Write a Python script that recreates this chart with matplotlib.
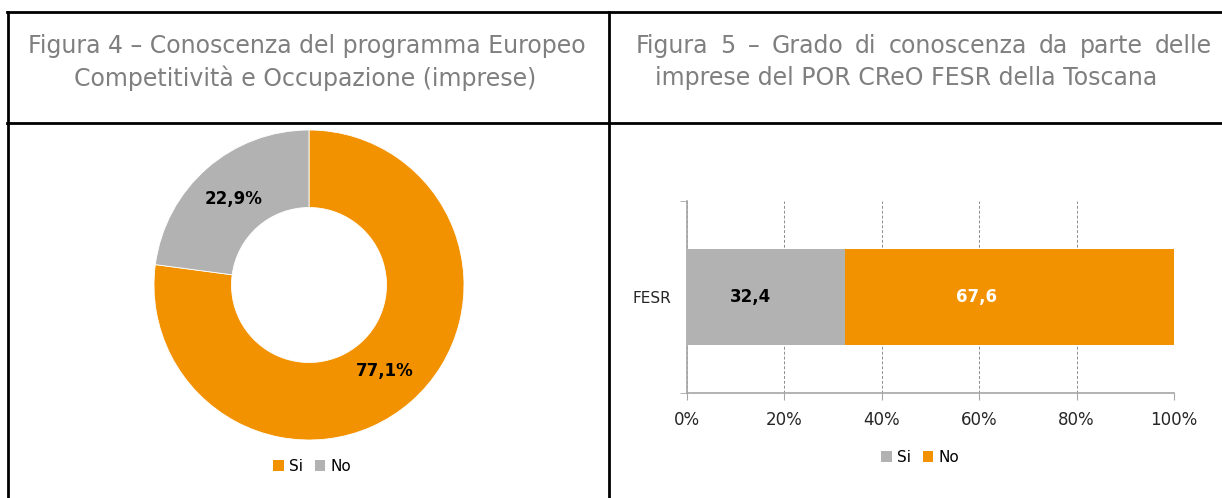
import matplotlib
matplotlib.use("Agg")
import matplotlib.pyplot as plt
from matplotlib.lines import Line2D
from matplotlib.patches import Patch

# ---- data ----
pie_labels = ["Si", "No"]
pie_values = [77.1, 22.9]
bar_category = ["FESR"]
bar_series = ["Si", "No"]
bar_values = [32.4, 67.6]
x_ticks = [0, 20, 40, 60, 80, 100]
x_ticklabels = ["0%", "20%", "40%", "60%", "80%", "100%"]
title_left = ["Figura 4 – Conoscenza del programma Europeo",
              "Competitività e Occupazione (imprese)"]
title_right = ["Figura 5 – Grado di conoscenza da parte delle",
               "imprese del POR CReO FESR della Toscana"]

ORANGE = "#F39200"
GREY = "#B2B2B2"
TITLE_C = "#7F7F7F"
TEXT_C = "#262626"
FONT = "DejaVu Sans"
plt.rcParams["font.family"] = [FONT]

W, H = 1222, 498
fig = plt.figure(figsize=(W / 100, H / 100), dpi=100)

def fx(px):
    return px / W

def fy(py):
    return 1 - py / H

# table lines
lw = 2
for (x0, y0, x1, y1) in [(7, 12, 1222, 12), (7, 123, 1222, 123),
                         (8, 12, 8, 498), (609, 12, 609, 498)]:
    fig.add_artist(Line2D([fx(x0), fx(x1)], [fy(y0), fy(y1)], color="black", lw=lw))

TS = 17
# titles
fig.text(fx(307), fy(46), title_left[0], ha="center", va="center", fontsize=TS, color=TITLE_C)
fig.text(fx(305), fy(78), title_left[1], ha="center", va="center", fontsize=TS, color=TITLE_C)

# justified first line of right title
renderer = fig.canvas.get_renderer()
words = title_right[0].split(" ")
wtexts = [fig.text(0, fy(46), w, ha="left", va="center", fontsize=TS, color=TITLE_C) for w in words]
widths = [t.get_window_extent(renderer).width for t in wtexts]
x_start, x_end = 636, 1212
gap = (x_end - x_start - sum(widths)) / (len(words) - 1)
xpos = x_start
for t, wdt in zip(wtexts, widths):
    t.set_x(fx(xpos))
    xpos += wdt + gap
fig.text(fx(655), fy(78), title_right[1], ha="left", va="center", fontsize=TS, color=TITLE_C)

# ---- donut ----
cx, cy, r = 309, 285, 155
axp = fig.add_axes([fx(cx - r), fy(cy + r), (2 * r) / W, (2 * r) / H])
wedges, texts, autotexts = axp.pie(
    pie_values, colors=[ORANGE, GREY], startangle=90, counterclock=False,
    radius=1, wedgeprops=dict(width=0.5, edgecolor="white", linewidth=0.6),
    autopct=lambda p: f"{p:.1f}%".replace(".", ","), pctdistance=0.74,
    textprops=dict(fontsize=12, fontweight="bold", color="black"))
axp.set_xlim(-1, 1)
axp.set_ylim(-1, 1)
axp.set_aspect("auto")
axp.axis("off")

handles_p = [Patch(facecolor=ORANGE, label=pie_labels[0]),
             Patch(facecolor=GREY, label=pie_labels[1])]
fig.legend(handles=handles_p, loc="center", bbox_to_anchor=(fx(312), fy(466)),
           ncol=2, frameon=False, fontsize=11, handlelength=0.7, handleheight=0.7,
           handletextpad=0.3, columnspacing=0.8)

# ---- stacked bar ----
axb = fig.add_axes([fx(687), fy(393), (1174 - 687) / W, (393 - 201) / H])
left = 0
colors_b = [GREY, ORANGE]
txt_colors = ["black", "white"]
for name, val, col, tc in zip(bar_series, bar_values, colors_b, txt_colors):
    axb.barh([0], [val], left=[left], height=1, color=col, label=name, zorder=3)
    axb.text(left + val * 0.4, 0, f"{val:.1f}".replace(".", ","), ha="center", va="center",
             fontsize=12, fontweight="bold", color=tc, zorder=4)
    left += val
axb.set_xlim(0, 100)
axb.set_ylim(-1, 1)
axb.set_xticks(x_ticks)
axb.set_xticklabels(x_ticklabels, fontsize=12, color=TEXT_C)
axb.set_yticks([0])
axb.set_yticklabels(bar_category, fontsize=11, color=TEXT_C)
axb.set_yticks([-1, 1], minor=True)
axb.tick_params(axis="y", which="major", length=0, pad=11)
axb.tick_params(axis="y", which="minor", length=5, color="#A6A6A6", direction="out")
axb.tick_params(axis="x", length=5, color="#A6A6A6", direction="out", pad=8)
axb.grid(axis="x", color="#8C8C8C", linestyle=(0, (3, 2)), linewidth=0.7, zorder=0)
for s in ["top", "right"]:
    axb.spines[s].set_visible(False)
for s in ["left", "bottom"]:
    axb.spines[s].set_color("#A6A6A6")
    axb.spines[s].set_linewidth(1.2)

handles_b = [Patch(facecolor=GREY, label=bar_series[0]),
             Patch(facecolor=ORANGE, label=bar_series[1])]
fig.legend(handles=handles_b, loc="center", bbox_to_anchor=(fx(920), fy(457)),
           ncol=2, frameon=False, fontsize=11, handlelength=0.7, handleheight=0.7,
           handletextpad=0.3, columnspacing=0.8)

fig.savefig("out.png", dpi=100)
